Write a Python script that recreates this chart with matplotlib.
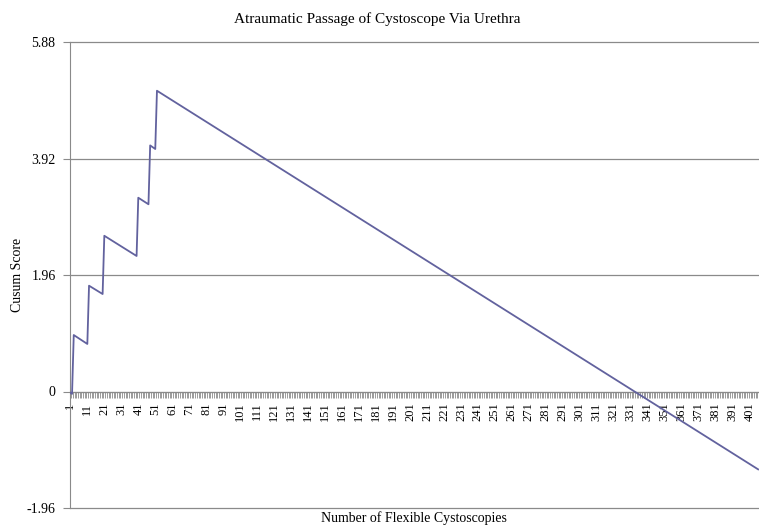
#!/usr/bin/env python3
"""CUSUM learning curve: atraumatic passage of cystoscope via urethra."""

from __future__ import annotations

import matplotlib

matplotlib.use("Agg")
import matplotlib.pyplot as plt
from matplotlib.ticker import FixedLocator

# turning points of the cusum line (case number, cusum score)
case_points = [1, 2, 3, 11, 12, 20, 21, 40, 41, 47, 48, 51, 52, 406]
cusum_scores = [-0.02, -0.04, 0.95, 0.80, 1.78, 1.64, 2.62, 2.28, 3.26, 3.15, 4.14, 4.08, 5.06, -1.31]

n_cases = 406
x_tick_cases = list(range(1, 402, 10))
y_ticks = [-1.96, 0, 1.96, 3.92, 5.88]
y_tick_labels = ["-1.96", "0", "1.96", "3.92", "5.88"]

TITLE = "Atraumatic Passage of Cystoscope Via Urethra"
X_LABEL = "Number of Flexible Cystoscopies"
Y_LABEL = "Cusum Score"


def main() -> None:
    plt.rcParams["font.family"] = ["Liberation Serif", "DejaVu Serif"]
    grey = "#8a8a8a"

    fig = plt.figure(figsize=(7.59, 5.28), dpi=100)
    ax = fig.add_axes([69.5 / 759, 1 - 508 / 528, 1 - 69.5 / 759, 466 / 528])

    ax.plot(case_points, cusum_scores, color="#62629e", lw=1.3, zorder=3)

    ax.set_xlim(0.5, n_cases + 0.5)
    ax.set_ylim(y_ticks[0], y_ticks[-1])

    # horizontal gridlines
    for y in y_ticks:
        ax.axhline(y, color=grey, lw=0.9, zorder=1, clip_on=False)

    ax.spines["top"].set_visible(False)
    ax.spines["right"].set_visible(False)
    ax.spines["left"].set_color(grey)
    ax.spines["bottom"].set_color(grey)
    ax.spines["bottom"].set_position(("data", 0))

    ax.set_yticks(y_ticks)
    ax.set_yticklabels(y_tick_labels, fontsize=10)
    ax.tick_params(axis="y", length=5, color=grey, pad=5)

    ax.xaxis.set_major_locator(FixedLocator(x_tick_cases))
    ax.set_xticklabels([str(c) for c in x_tick_cases], rotation=90, fontsize=9)
    ax.xaxis.set_minor_locator(FixedLocator([i + 0.5 for i in range(n_cases + 1)]))
    ax.tick_params(axis="x", which="major", length=0, pad=8)
    ax.tick_params(axis="x", which="minor", length=4, width=0.6, color=grey)

    ax.set_xlabel(X_LABEL, fontsize=10)
    ax.xaxis.set_label_coords(0.5, -0.006)
    ax.xaxis.label.set_va("top")
    ax.set_ylabel(Y_LABEL, fontsize=10)
    ax.yaxis.set_label_coords(-0.066, 0.5)

    fig.text(0.497, 1 - 23 / 528, TITLE, ha="center", va="baseline", fontsize=11)

    fig.savefig("out.png", dpi=100)
    plt.close(fig)


if __name__ == "__main__":
    main()
